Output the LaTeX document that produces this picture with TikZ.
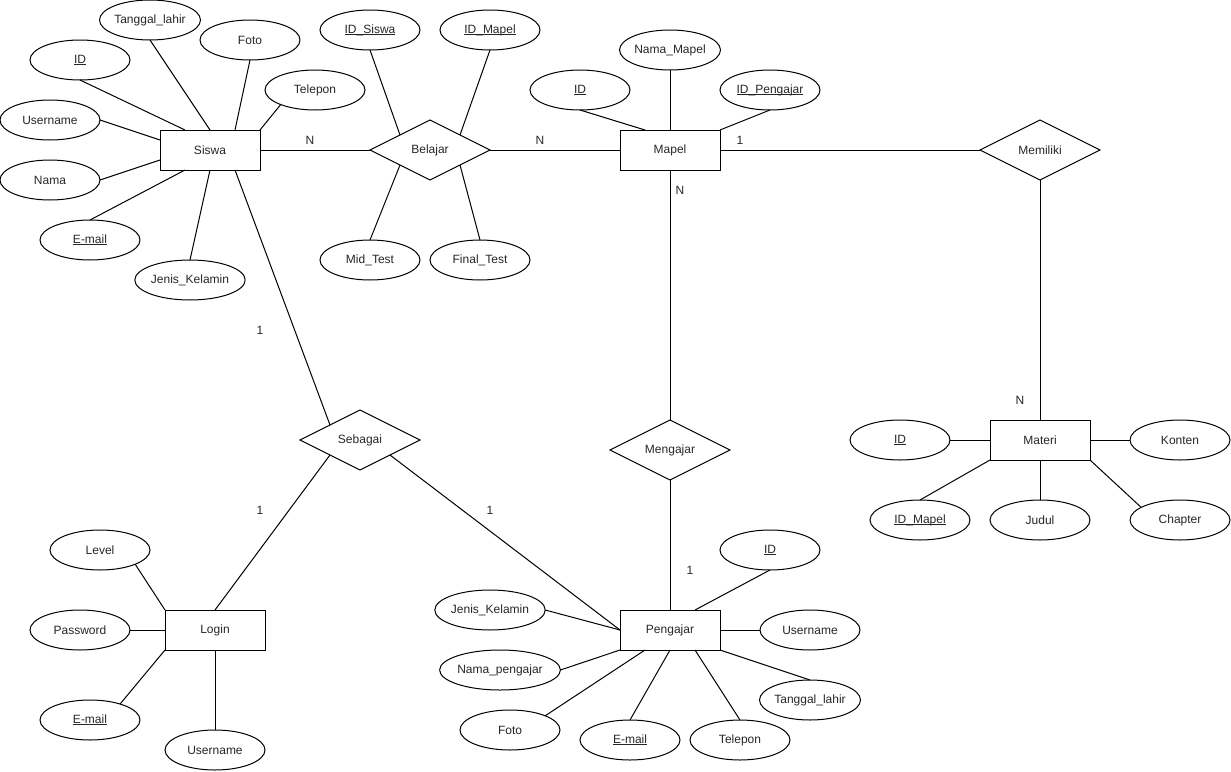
\documentclass[tikz,border=0pt]{standalone}
\usepackage{fontspec}
\setmainfont{Liberation Sans}
\usepackage{tikz}
\usetikzlibrary{shapes.geometric}
\definecolor{ink}{HTML}{000000}
\definecolor{txt}{HTML}{262626}
\newsavebox{\pkbox}
\newcommand{\pk}[1]{\sbox{\pkbox}{#1}\usebox{\pkbox}\llap{\rule[-1.8pt]{\wd\pkbox}{0.8pt}}}

\begin{document}
\begin{tikzpicture}[x=1pt,y=-1pt,
  lbl/.style={font=\fontsize{12}{14}\selectfont,text=txt},
  ent/.style={lbl,draw=ink,line width=1pt,minimum width=100pt,minimum height=40pt,inner sep=0pt,outer sep=0pt},
  attr/.style={lbl,ellipse,draw=ink,line width=1pt,minimum width=100pt,minimum height=40pt,inner sep=0pt,outer sep=0pt},
  rel/.style={lbl,diamond,draw=ink,line width=1pt,minimum width=120pt,minimum height=60pt,aspect=2,inner sep=0pt,outer sep=0pt},
  link/.style={draw=ink,line width=1pt},
  card/.style={lbl,inner sep=0pt}]

  \useasboundingbox (0,0) rectangle (1231,771);

  % Siswa
  \node[ent]  (siswa) at (210,150) {Siswa};
  \node[attr] (sTgl)  at (150,20)  {Tanggal\_lahir};
  \node[attr] (sFoto) at (250,40)  {Foto};
  \node[attr] (sId)   at (80,60)   {\pk{ID}};
  \node[attr] (sTelp) at (315,90)  {Telepon};
  \node[attr] (sUser) at (50,120)  {Username};
  \node[attr] (sNama) at (50,180)  {Nama};
  \node[attr] (sMail) at (90,240)  {\pk{E-mail}};
  \node[attr] (sJk)   at (190,280) {Jenis\_Kelamin};

  \draw[link] (sTgl.south) -- (siswa.north);
  \draw[link] (sFoto.south) -- ([xshift=25pt]siswa.north);
  \draw[link] (sId.south) -- ([xshift=-25pt]siswa.north);
  \draw[link] (sTelp.203) -- (siswa.north east);
  \draw[link] (sUser.east) -- ([yshift=10pt]siswa.west);
  \draw[link] (sNama.east) -- ([yshift=-10pt]siswa.west);
  \draw[link] (sMail.north) -- ([xshift=-25pt]siswa.south);
  \draw[link] (sJk.north) -- (siswa.south);

  % Belajar
  \node[rel]  (belajar) at (430,150) {Belajar};
  \node[attr] (bSiswa)  at (370,30)  {\pk{ID\_Siswa}};
  \node[attr] (bMapel)  at (490,30)  {\pk{ID\_Mapel}};
  \node[attr] (bMid)    at (370,260) {Mid\_Test};
  \node[attr] (bFinal)  at (480,260) {Final\_Test};

  \draw[link] (bSiswa.south) -- (belajar.north west);
  \draw[link] (bMapel.south) -- (belajar.north east);
  \draw[link] (bMid.north) -- (belajar.south west);
  \draw[link] (bFinal.north) -- (belajar.south east);

  % Mapel
  \node[ent]  (mapel)     at (670,150) {Mapel};
  \node[attr] (mId)       at (580,90)  {\pk{ID}};
  \node[attr] (mNama)     at (670,50)  {Nama\_Mapel};
  \node[attr] (mPengajar) at (770,90)  {\pk{ID\_Pengajar}};

  \draw[link] (mId.south) -- ([xshift=-25pt]mapel.north);
  \draw[link] (mNama.south) -- (mapel.north);
  \draw[link] (mPengajar.south) -- (mapel.north east);

  % Memiliki / Materi
  \node[rel]  (memiliki) at (1040,150) {Memiliki};
  \node[ent]  (materi)   at (1040,440) {Materi};
  \node[attr] (tId)      at (900,440)  {\pk{ID}};
  \node[attr] (tKonten)  at (1180,440) {Konten};
  \node[attr] (tMapel)   at (920,520)  {\pk{ID\_Mapel}};
  \node[attr] (tJudul)   at (1040,520) {Judul};
  \node[attr] (tChapter) at (1180,520) {Chapter};

  \draw[link] (tId.east) -- (materi.west);
  \draw[link] (tKonten.west) -- (materi.east);
  \draw[link] (tMapel.north) -- (materi.south west);
  \draw[link] (tJudul.north) -- (materi.south);
  \draw[link] (tChapter.162) -- (materi.south east);

  % Mengajar / Pengajar
  \node[rel]  (mengajar) at (670,450) {Mengajar};
  \node[ent]  (pengajar) at (670,630) {Pengajar};
  \node[attr] (pId)   at (770,550) {\pk{ID}};
  \node[attr] (pUser) at (810,630) {Username};
  \node[attr] (pTgl)  at (810,700) {Tanggal\_lahir};
  \node[attr] (pTelp) at (740,740) {Telepon};
  \node[attr] (pMail) at (630,740) {\pk{E-mail}};
  \node[attr] (pFoto) at (510,730) {Foto};
  \node[attr] (pNama) at (500,670) {Nama\_pengajar};
  \node[attr] (pJk)   at (490,610) {Jenis\_Kelamin};

  \draw[link] (pId.south) -- ([xshift=25pt]pengajar.north);
  \draw[link] (pUser.west) -- (pengajar.east);
  \draw[link] (pTgl.north) -- (pengajar.south east);
  \draw[link] (pTelp.north) -- ([xshift=25pt]pengajar.south);
  \draw[link] (pMail.north) -- (pengajar.south);
  \draw[link] (pFoto.22) -- ([xshift=-25pt]pengajar.south);
  \draw[link] (pNama.east) -- (pengajar.south west);
  \draw[link] (pJk.east) -- (pengajar.west);

  % Sebagai / Login
  \node[rel]  (sebagai) at (360,440) {Sebagai};
  \node[ent]  (login)   at (215,630) {Login};
  \node[attr] (lLevel)  at (100,550) {Level};
  \node[attr] (lPass)   at (80,630)  {Password};
  \node[attr] (lMail)   at (90,720)  {\pk{E-mail}};
  \node[attr] (lUser)   at (215,750) {Username};

  \draw[link] (lLevel.338) -- (login.north west);
  \draw[link] (lPass.east) -- (login.west);
  \draw[link] (lMail.28) -- (login.south west);
  \draw[link] (lUser.north) -- (login.south);

  % relationships
  \draw[link] (siswa.east) -- (belajar.west);
  \draw[link] (belajar.east) -- (mapel.west);
  \draw[link] (mapel.east) -- (memiliki.west);
  \draw[link] (memiliki.south) -- (materi.north);
  \draw[link] (mapel.south) -- (mengajar.north);
  \draw[link] (mengajar.south) -- (pengajar.north);
  \draw[link] ([xshift=25pt]siswa.south) -- (sebagai.north west);
  \draw[link] (sebagai.south west) -- (login.north);
  \draw[link] (sebagai.south east) -- (pengajar.west);

  \node[card] (cSB) at (310,140) {N};
  \node[card] (cBM) at (540,140) {N};
  \node[card] (cMM) at (740,140) {1};
  \node[card] (cMT) at (1020,400) {N};
  \node[card] (cMG) at (680,190) {N};
  \node[card] (cGP) at (690,570) {1};
  \node[card] (cSS) at (260,330) {1};
  \node[card] (cSL) at (260,510) {1};
  \node[card] (cSP) at (490,510) {1};
\end{tikzpicture}
\end{document}
